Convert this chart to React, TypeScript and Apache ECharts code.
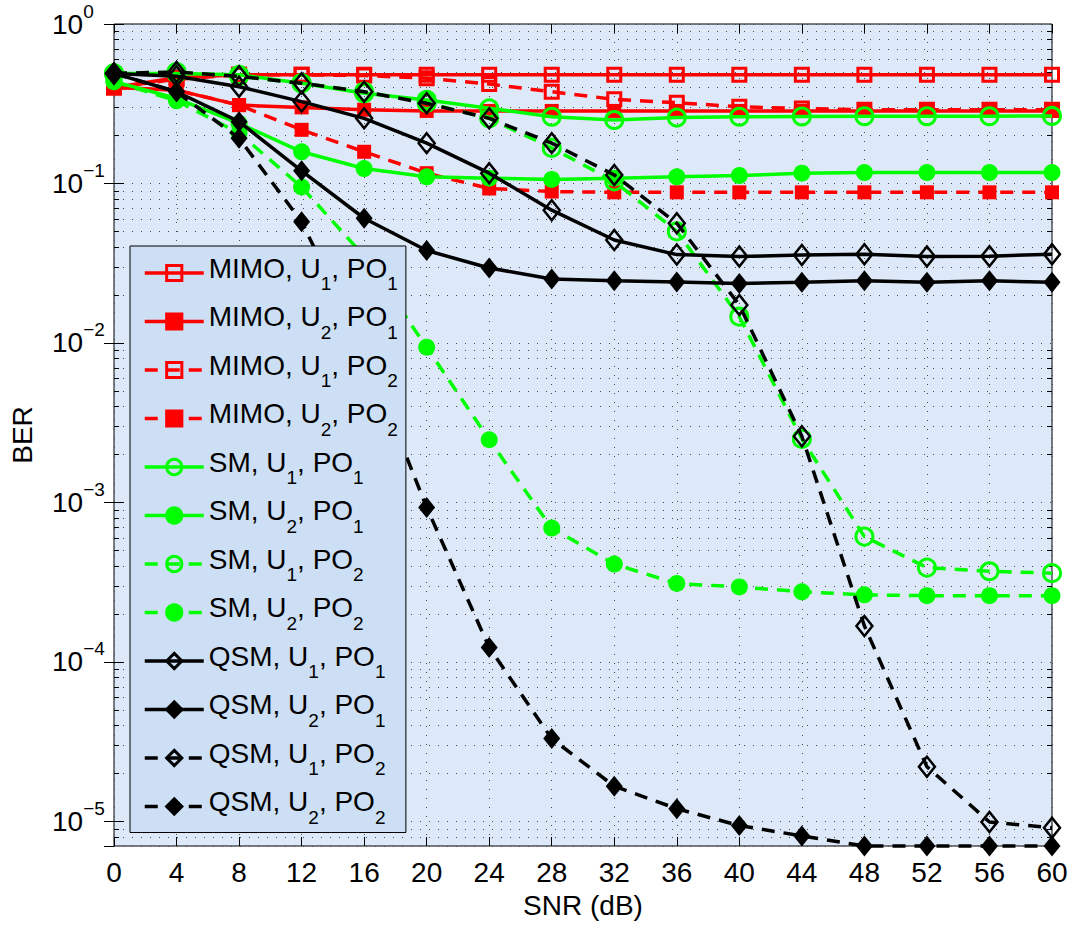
import React, { useEffect, useRef } from 'react';
import * as echarts from 'echarts';

// ---- data ----
const snr = [0, 4, 8, 12, 16, 20, 24, 28, 32, 36, 40, 44, 48, 52, 56, 60];

const mimoU1PO1 = [0.40, 0.46, 0.48, 0.48, 0.48, 0.48, 0.48, 0.48, 0.48, 0.48, 0.48, 0.48, 0.48, 0.48, 0.48, 0.48];
const mimoU2PO1 = [0.40, 0.385, 0.31, 0.30, 0.29, 0.285, 0.285, 0.285, 0.285, 0.285, 0.285, 0.285, 0.285, 0.285, 0.285, 0.285];
const mimoU1PO2 = [0.40, 0.45, 0.48, 0.48, 0.475, 0.457, 0.42, 0.376, 0.337, 0.321, 0.303, 0.295, 0.29, 0.29, 0.29, 0.29];
const mimoU2PO2 = [0.40, 0.385, 0.31, 0.217, 0.158, 0.116, 0.093, 0.089, 0.088, 0.088, 0.088, 0.088, 0.088, 0.088, 0.088, 0.088];
const smU1PO1 = [0.49, 0.49, 0.48, 0.425, 0.368, 0.334, 0.296, 0.262, 0.25, 0.259, 0.262, 0.263, 0.264, 0.264, 0.264, 0.265];
const smU2PO1 = [0.435, 0.342, 0.238, 0.158, 0.124, 0.110, 0.108, 0.106, 0.108, 0.110, 0.112, 0.116, 0.117, 0.117, 0.117, 0.117];
const smU1PO2 = [0.49, 0.5, 0.47, 0.425, 0.376, 0.32, 0.256, 0.167, 0.103, 0.05, 0.0146, 0.0025, 6.1e-4, 3.9e-4, 3.7e-4, 3.6e-4];
const smU2PO2 = [0.435, 0.33, 0.207, 0.095, 0.035, 9.4e-3, 2.47e-3, 6.9e-4, 4.1e-4, 3.1e-4, 2.95e-4, 2.75e-4, 2.63e-4, 2.6e-4, 2.6e-4, 2.6e-4];
const qsmU1PO1 = [0.49, 0.47, 0.404, 0.326, 0.256, 0.179, 0.116, 0.068, 0.0442, 0.0358, 0.0348, 0.0356, 0.036, 0.0348, 0.035, 0.036];
const qsmU2PO1 = [0.49, 0.376, 0.244, 0.12, 0.0605, 0.038, 0.0295, 0.0252, 0.0245, 0.0241, 0.0236, 0.024, 0.0245, 0.024, 0.0245, 0.024];
const qsmU1PO2 = [0.49, 0.5, 0.47, 0.425, 0.376, 0.318, 0.256, 0.179, 0.113, 0.0563, 0.0173, 0.0026, 1.68e-4, 2.2e-5, 9.9e-6, 9.1e-6];
const qsmU2PO2 = [0.49, 0.376, 0.192, 0.0576, 9.0e-3, 9.3e-4, 1.23e-4, 3.3e-5, 1.66e-5, 1.2e-5, 9.4e-6, 8.1e-6, 7.0e-6, 7.0e-6, 7.0e-6, 7.0e-6];

const seriesNames = [
  'MIMO, U1, PO1', 'MIMO, U2, PO1', 'MIMO, U1, PO2', 'MIMO, U2, PO2',
  'SM, U1, PO1', 'SM, U2, PO1', 'SM, U1, PO2', 'SM, U2, PO2',
  'QSM, U1, PO1', 'QSM, U2, PO1', 'QSM, U1, PO2', 'QSM, U2, PO2',
];
const seriesValues = [
  mimoU1PO1, mimoU2PO1, mimoU1PO2, mimoU2PO2,
  smU1PO1, smU2PO1, smU1PO2, smU2PO2,
  qsmU1PO1, qsmU2PO1, qsmU1PO2, qsmU2PO2,
];

// log-axis minor tick positions (mantissa x decade)
const minorMantissas = [2, 3, 4, 5, 6, 7, 8, 9];
const minorDecades = [1e-6, 1e-5, 1e-4, 1e-3, 1e-2, 1e-1];
const yMin = 7e-6;
const yMax = 1;

const FONT = '"Liberation Sans", Arial, Helvetica, sans-serif';
const RED = '#ff0000';
const GREEN = '#00ff00';
const BLACK = '#000000';
const GRIDC = '#4a4a4a';
const DOTTED = [1, 8];
const LW = 3.5;

type Style = { color: string; dashed: boolean; symbol: string; size: any; hollow: boolean; bw: number };
const styles: Style[] = [
  { color: RED, dashed: false, symbol: 'rect', size: 13, hollow: true, bw: 3 },
  { color: RED, dashed: false, symbol: 'rect', size: 14, hollow: false, bw: 0 },
  { color: RED, dashed: true, symbol: 'rect', size: 13, hollow: true, bw: 3 },
  { color: RED, dashed: true, symbol: 'rect', size: 14, hollow: false, bw: 0 },
  { color: GREEN, dashed: false, symbol: 'circle', size: 17, hollow: true, bw: 3 },
  { color: GREEN, dashed: false, symbol: 'circle', size: 17, hollow: false, bw: 0 },
  { color: GREEN, dashed: true, symbol: 'circle', size: 17, hollow: true, bw: 3 },
  { color: GREEN, dashed: true, symbol: 'circle', size: 17, hollow: false, bw: 0 },
  { color: BLACK, dashed: false, symbol: 'diamond', size: [16, 20], hollow: true, bw: 2.5 },
  { color: BLACK, dashed: false, symbol: 'diamond', size: [17, 21], hollow: false, bw: 0 },
  { color: BLACK, dashed: true, symbol: 'diamond', size: [16, 20], hollow: true, bw: 2.5 },
  { color: BLACK, dashed: true, symbol: 'diamond', size: [17, 21], hollow: false, bw: 0 },
];

function legendLabel(name: string): string {
  const m = name.match(/^(\w+), U(\d), PO(\d)$/);
  if (!m) return name;
  return `{b|${m[1]}, U}{s|${m[2]}}{b|, PO}{s|${m[3]}}`;
}

function yLabel(v: number): string {
  const e = Math.round(Math.log10(v));
  const exp = e === 0 ? '0' : (e < 0 ? '\u2212' + (-e) : String(e));
  return `{b|10}{s|${exp}}`;
}

export default function App() {
  const ref = useRef<HTMLDivElement>(null);

  useEffect(() => {
    if (!ref.current) return;
    const chart = echarts.init(ref.current, undefined, { renderer: 'svg' });

    const minorVals: number[] = [];
    minorDecades.forEach((d) => minorMantissas.forEach((m) => {
      const v = m * d;
      if (v > yMin * 1.0001 && v < yMax) minorVals.push(v);
    }));

    const lineSeries = seriesNames.map((name, i) => {
      const s = styles[i];
      return {
        name,
        type: 'line',
        data: snr.map((x, k) => [x, seriesValues[i][k]]),
        symbol: s.symbol,
        symbolSize: s.size,
        showSymbol: true,
        clip: false,
        z: 2 + i * 0.01,
        lineStyle: { color: s.color, width: LW, type: s.dashed ? [13, 9] : 'solid' },
        itemStyle: s.hollow
          ? { color: 'rgba(0,0,0,0)', borderColor: s.color, borderWidth: s.bw }
          : { color: s.color, borderColor: s.color, borderWidth: 0 },
        emphasis: { disabled: true },
        silent: true,
      };
    });

    const minorSeries = {
      name: '__minor',
      type: 'custom',
      silent: true,
      z: 1,
      clip: false,
      data: minorVals.map((v) => [0, v]),
      renderItem: (params: any, api: any) => {
        const cs = params.coordSys;
        const y = Math.round(api.coord([0, api.value(1)])[1]) + 0.5;
        return {
          type: 'group',
          children: [
            { type: 'line', shape: { x1: cs.x, y1: y, x2: cs.x + cs.width, y2: y }, style: { stroke: GRIDC, lineWidth: 1, lineDash: DOTTED } },
            { type: 'line', shape: { x1: cs.x, y1: y, x2: cs.x + 5, y2: y }, style: { stroke: '#000', lineWidth: 1 } },
            { type: 'line', shape: { x1: cs.x + cs.width - 5, y1: y, x2: cs.x + cs.width, y2: y }, style: { stroke: '#000', lineWidth: 1 } },
          ],
        };
      },
    };

    const option: any = {
      animation: false,
      backgroundColor: '#ffffff',
      textStyle: { fontFamily: FONT },
      grid: {
        left: 114, right: 24, top: 24, bottom: 80,
        show: true, backgroundColor: '#dde9f8', borderColor: '#000', borderWidth: 1,
        containLabel: false, outerBoundsMode: 'none',
      },
      xAxis: [
        {
          type: 'value', min: 0, max: 60, interval: 4, position: 'bottom',
          axisLine: { show: false },
          axisTick: { show: true, inside: true, length: 9, lineStyle: { color: '#000', width: 1 } },
          axisLabel: { fontSize: 28, color: '#000', margin: 12, fontFamily: FONT },
          splitLine: { show: true, lineStyle: { color: GRIDC, width: 1, type: DOTTED } },
          name: 'SNR (dB)', nameLocation: 'middle', nameGap: 45,
          nameTextStyle: { fontSize: 28, color: '#000', fontFamily: FONT },
        },
        {
          type: 'value', min: 0, max: 60, interval: 4, position: 'top',
          axisLine: { show: false },
          axisTick: { show: true, inside: true, length: 9, lineStyle: { color: '#000', width: 1 } },
          axisLabel: { show: false },
          splitLine: { show: false },
        },
      ],
      yAxis: [
        {
          type: 'log', logBase: 10, min: yMin, max: yMax, position: 'left',
          axisLine: { show: false },
          axisTick: { show: true, inside: true, length: 10, lineStyle: { color: '#000', width: 1 } },
          axisLabel: {
            show: true, showMinLabel: false, margin: 62, align: 'left', color: '#000',
            formatter: yLabel,
            rich: {
              b: { fontSize: 28, lineHeight: 28, fontFamily: FONT, color: '#000' },
              s: { fontSize: 19, lineHeight: 19, padding: [0, 0, 26, 0], fontFamily: FONT, color: '#000' },
            },
          },
          splitLine: { show: true, lineStyle: { color: GRIDC, width: 1, type: DOTTED } },
          minorTick: { show: false },
          name: 'BER', nameLocation: 'middle', nameGap: 78, nameRotate: 90,
          nameTextStyle: { fontSize: 28, color: '#000', fontFamily: FONT },
        },
        {
          type: 'log', logBase: 10, min: yMin, max: yMax, position: 'right',
          axisLine: { show: false },
          axisTick: { show: true, inside: true, length: 10, lineStyle: { color: '#000', width: 1 } },
          axisLabel: { show: false },
          splitLine: { show: false },
        },
      ],
      legend: {
        orient: 'vertical', left: 130, top: 246,
        data: seriesNames,
        itemWidth: 59, itemHeight: 19, itemGap: 8.5,
        padding: [7, 8, 6, 13],
        backgroundColor: '#cddff5', borderColor: '#000', borderWidth: 1,
        selectedMode: false,
        formatter: legendLabel,
        lineStyle: { width: LW },
        itemStyle: { borderWidth: 3 },
        textStyle: {
          fontSize: 28, fontFamily: FONT, color: '#000',
          rich: {
            b: { fontSize: 28, lineHeight: 28, padding: [0, 0, 10, 0], fontFamily: FONT, color: '#000' },
            s: { fontSize: 19, lineHeight: 19, padding: [21, 0, 0, 0], fontFamily: FONT, color: '#000' },
          },
        },
      },
      series: [minorSeries, ...lineSeries],
    };

    chart.setOption(option);
    return () => chart.dispose();
  }, []);

  return (
    <div
      ref={ref}
      style={{ position: 'absolute', left: 0, top: 0, width: 1076, height: 926, background: '#fff' }}
    />
  );
}
